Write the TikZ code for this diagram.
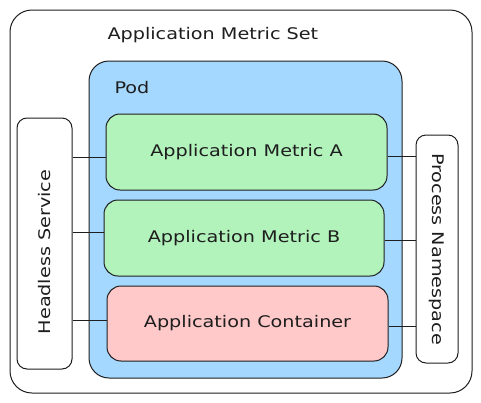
\documentclass[tikz,border=0pt]{standalone}
\usepackage{fontspec}
\setmainfont{DejaVu Sans}
\newfontfamily\hand[FakeStretch=1.2]{DejaVu Sans}
\definecolor{ink}{HTML}{1E1E1E}
\definecolor{podblue}{HTML}{A5D8FF}
\definecolor{mgreen}{HTML}{B2F2BB}
\definecolor{cred}{HTML}{FFC9C9}
\tikzset{
  box/.style={draw=ink, line width=1pt, rounded corners=14pt, inner sep=0pt},
  lbl/.style={font=\hand\fontsize{16}{18}\selectfont, text=ink},
  conn/.style={draw=ink, line width=0.9pt}
}
\begin{document}
\begin{tikzpicture}[x=1pt,y=-1pt]
\useasboundingbox (0,0) rectangle (481,402);
\fill[white] (0,0) rectangle (481,402);
% outer
\draw[box, rounded corners=22pt] (10,10) rectangle (472,393);
\node[lbl, anchor=west] (title) at (104,35) {Application Metric Set};
% pod
\draw[box, fill=podblue, rounded corners=20pt] (89,61) rectangle (402,378);
\node[lbl, anchor=west] (podlbl) at (111,88) {Pod};
% inner boxes
\node[box, fill=mgreen, minimum width=281pt, minimum height=76pt, lbl] (ma) at (246.5,152) {Application Metric A};
\node[box, fill=mgreen, minimum width=280pt, minimum height=76pt, lbl] (mb) at (244,238) {Application Metric B};
\node[box, fill=cred, minimum width=281pt, minimum height=75pt, lbl] (ac) at (247.5,323.5) {Application Container};
% side boxes
\node[box, rounded corners=10pt, minimum width=55pt, minimum height=251pt] (hs) at (44.5,243.5) {};
\node[lbl, rotate=90] (hslbl) at (44.5,252) {Headless Service};
\node[box, rounded corners=10pt, minimum width=42pt, minimum height=228pt] (pn) at (437,249) {};
\node[lbl, rotate=-90] (pnlbl) at (pn.center) {Process Namespace};
% connectors
\draw[conn] (hs.east |- 0,157) -- (ma.west |- 0,157);
\draw[conn] (hs.east |- 0,232) -- (mb.west |- 0,232);
\draw[conn] (hs.east |- 0,320) -- (ac.west |- 0,320);
\draw[conn] (ma.east |- 0,156) -- (pn.west |- 0,156);
\draw[conn] (mb.east |- 0,240) -- (pn.west |- 0,240);
\draw[conn] (ac.east |- 0,326) -- (pn.west |- 0,326);
\end{tikzpicture}
\end{document}
